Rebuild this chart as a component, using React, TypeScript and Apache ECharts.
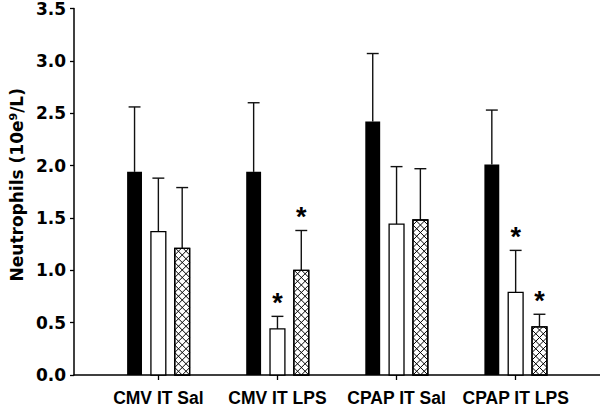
import React, { useEffect, useRef } from "react";
import * as echarts from "echarts";

const categories = ["CMV IT Sal", "CMV IT LPS", "CPAP IT Sal", "CPAP IT LPS"];
const blackMean = [1.94, 1.94, 2.42, 2.01];
const blackSD = [0.62, 0.66, 0.65, 0.52];
const whiteMean = [1.37, 0.44, 1.44, 0.79];
const whiteSD = [0.51, 0.12, 0.55, 0.4];
const hatchMean = [1.21, 1.0, 1.48, 0.46];
const hatchSD = [0.58, 0.38, 0.49, 0.12];
const whiteStar = [0, 1, 0, 1];
const hatchStar = [0, 1, 0, 1];
const categoryPositions = [0, 1, 2, 3];

type Kind = "black" | "white" | "hatch";

function makeRenderer(kind: Kind, offset: number) {
  return (params: any, api: any) => {
    const idx = api.value(0);
    const mean = api.value(1);
    const sd = api.value(2);
    const star = api.value(3);
    const xc = idx + offset;
    const base = api.coord([xc, 0]);
    const top = api.coord([xc, mean]);
    const errTop = api.coord([xc, mean + sd]);
    const w = api.size([0.125, 0])[0];
    const capW = api.size([0.1, 0])[0];
    const x0 = base[0] - w / 2;
    const x1 = base[0] + w / 2;
    const y0 = top[1];
    const y1 = base[1];
    const children: any[] = [];
    children.push({
      type: "line",
      shape: { x1: base[0], y1: top[1], x2: base[0], y2: errTop[1] },
      style: { stroke: "#111", lineWidth: 1.4 },
    });
    children.push({
      type: "line",
      shape: { x1: base[0] - capW / 2, y1: errTop[1], x2: base[0] + capW / 2, y2: errTop[1] },
      style: { stroke: "#111", lineWidth: 1.4 },
    });
    children.push({
      type: "rect",
      shape: { x: x0, y: y0, width: w, height: y1 - y0 },
      style: {
        fill: kind === "black" ? "#000" : "#fff",
        stroke: "#000",
        lineWidth: kind === "black" ? 0 : 1.3,
      },
    });
    if (kind === "hatch") {
      const p = 7.5;
      const segs: number[][] = [];
      const clip = (dir: number, c: number) => {
        const pts: number[][] = [];
        const yAt = (x: number) => (dir > 0 ? x - c : c - x);
        const xAt = (y: number) => (dir > 0 ? y + c : c - y);
        const cand = [
          [x0, yAt(x0)],
          [x1, yAt(x1)],
          [xAt(y0), y0],
          [xAt(y1), y1],
        ];
        for (const q of cand) {
          if (q[0] >= x0 - 0.01 && q[0] <= x1 + 0.01 && q[1] >= y0 - 0.01 && q[1] <= y1 + 0.01) {
            if (!pts.some((r) => Math.abs(r[0] - q[0]) < 0.01 && Math.abs(r[1] - q[1]) < 0.01)) pts.push(q);
          }
        }
        if (pts.length >= 2) segs.push([pts[0][0], pts[0][1], pts[1][0], pts[1][1]]);
      };
      const startA = x0 + y1;
      for (let k = -60; k <= 60; k++) clip(-1, startA + k * p);
      const startB = x0 - y1;
      for (let k = -60; k <= 60; k++) clip(1, startB + k * p);
      for (const s of segs) {
        children.push({
          type: "line",
          shape: { x1: s[0], y1: s[1], x2: s[2], y2: s[3] },
          style: { stroke: "#000", lineWidth: 1 },
        });
      }
      children.push({
        type: "rect",
        shape: { x: x0, y: y0, width: w, height: y1 - y0 },
        style: { fill: "none", stroke: "#000", lineWidth: 1.3 },
      });
    }
    if (star) {
      children.push({
        type: "text",
        x: base[0],
        y: errTop[1] - 13,
        style: {
          text: "*",
          fontSize: 27,
          fontWeight: "bold",
          fontFamily: "Liberation Sans, Arial",
          align: "center",
          verticalAlign: "middle",
          fill: "#000",
        },
      });
    }
    return { type: "group", children };
  };
}

function seriesData(mean: number[], sd: number[], star?: number[]) {
  return categoryPositions.map((c, i) => [c, mean[i], sd[i], star ? star[i] : 0]);
}

export default function App() {
  const ref = useRef<HTMLDivElement>(null);
  useEffect(() => {
    const chart = echarts.init(ref.current!, null, { renderer: "svg" });
    chart.setOption({
      animation: false,
      backgroundColor: "#fff",
      grid: { left: 70, right: 0, top: 6, bottom: 32, containLabel: false },
      xAxis: {
        type: "value",
        min: -0.7083,
        max: 3.7083,
        axisLine: { show: true, onZero: false, lineStyle: { color: "#000", width: 1.5 } },
        axisTick: { show: true, customValues: categoryPositions, length: 5, lineStyle: { color: "#000", width: 1.3 } },
        axisLabel: {
          customValues: categoryPositions,
          formatter: (v: number) => categories[Math.round(v)] ?? "",
          fontFamily: "Liberation Sans, Arial",
          fontWeight: "bold",
          fontSize: 17.5,
          color: "#000",
          margin: 14,
        },
        splitLine: { show: false },
      },
      yAxis: {
        type: "value",
        min: 0,
        max: 3.5,
        interval: 0.5,
        name: "{a|Neutrophils (10e}{s|9}{a|/L)}",
        nameLocation: "middle",
        nameGap: 46,
        nameTextStyle: {
          padding: [0, 0, 0, 14],
          rich: {
            a: { fontSize: 17, fontWeight: "bold", fontFamily: "DejaVu Sans", color: "#000" },
            s: { fontSize: 11, fontWeight: "bold", fontFamily: "DejaVu Sans", color: "#000", verticalAlign: "top" },
          },
        },
        axisLine: { show: true, onZero: false, lineStyle: { color: "#000", width: 1.5 } },
        axisTick: { show: true, length: 4, lineStyle: { color: "#000", width: 1.3 } },
        axisLabel: {
          formatter: (v: number) => v.toFixed(1),
          fontFamily: "DejaVu Sans",
          fontWeight: "bold",
          fontSize: 17,
          color: "#000",
          margin: 8,
        },
        splitLine: { show: false },
      },
      series: [
        {
          type: "custom",
          renderItem: makeRenderer("black", -0.2),
          data: seriesData(blackMean, blackSD),
          encode: { x: 0, y: 1 },
        },
        {
          type: "custom",
          renderItem: makeRenderer("white", 0),
          data: seriesData(whiteMean, whiteSD, whiteStar),
          encode: { x: 0, y: 1 },
        },
        {
          type: "custom",
          renderItem: makeRenderer("hatch", 0.2),
          data: seriesData(hatchMean, hatchSD, hatchStar),
          encode: { x: 0, y: 1 },
        },
      ],
    });
    return () => chart.dispose();
  }, []);
  return <div ref={ref} style={{ position: "fixed", left: 0, top: 0, width: 600, height: 407 }} />;
}
